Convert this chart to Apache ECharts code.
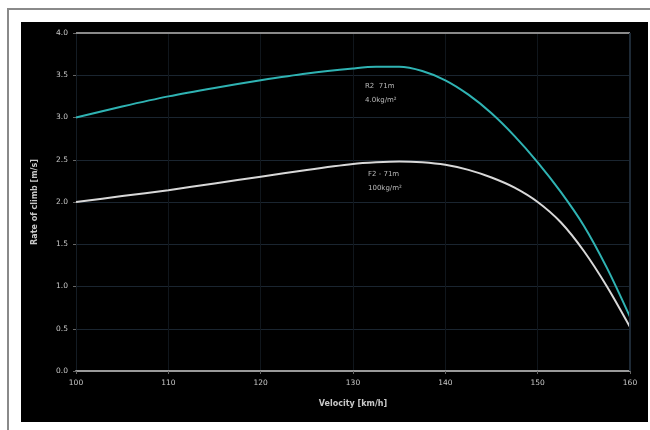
<!DOCTYPE html>
<html><head><meta charset="utf-8">
<script src="https://cdn.jsdelivr.net/npm/echarts@6/dist/echarts.min.js"></script>
<style>html,body{margin:0;padding:0;background:#fff}#c{width:650px;height:430px}</style>
</head><body><div id="c"></div>
<script>
const velocity = [100,105,110,115,120,125,130,132.5,135,137.5,140,142.5,145,147.5,150,152.5,155,157.5,160];
const climbCyan = [3.00,3.13,3.25,3.35,3.44,3.52,3.58,3.60,3.60,3.55,3.44,3.27,3.05,2.78,2.47,2.12,1.72,1.22,0.64];
const climbWhite = [2.00,2.07,2.14,2.22,2.30,2.38,2.45,2.47,2.48,2.47,2.44,2.38,2.29,2.17,2.00,1.76,1.42,1.00,0.52];
const yTicks = [0,0.5,1,1.5,2,2.5,3,3.5,4];
const xTicks = [100,110,120,130,140,150,160];
const labelCyan = ['R2  71m','4.0kg/m²'];
const labelWhite = ['F2 - 71m','100kg/m²'];

const chart = echarts.init(document.getElementById('c'), null, {renderer:'canvas'});
const pair = (xs, ys) => xs.map((x,i)=>[x, ys[i]]);
const txt = '#c8c8c8';
chart.setOption({
  backgroundColor:'#ffffff',
  animation:false,
  graphic:[
    {type:'rect', shape:{x:8,y:9,width:660,height:440}, style:{fill:'#fff',stroke:'#8a8a8a',lineWidth:2}, z:-10},
    {type:'rect', shape:{x:21,y:22,width:627,height:400}, style:{fill:'#000'}, z:-9},
    {type:'text', left:365, top:79, style:{text:labelCyan.join('\n'), fill:'#b8b8b8', font:'7px "DejaVu Sans"', lineHeight:14}, z:10},
    {type:'text', left:368, top:167, style:{text:labelWhite.join('\n'), fill:'#b8b8b8', font:'7px "DejaVu Sans"', lineHeight:14}, z:10}
  ],
  grid:{left:76, right:20, top:33, bottom:59},
  xAxis:{
    type:'value', min:100, max:160, interval:10,
    name:'Velocity [km/h]', nameLocation:'middle', nameGap:29,
    nameTextStyle:{color:txt, fontSize:8, fontWeight:'bold', fontFamily:'DejaVu Sans'},
    axisLine:{show:true, lineStyle:{color:'#9a9a9a', width:2}},
    axisTick:{show:true, length:3, lineStyle:{color:'#666'}},
    axisLabel:{color:txt, fontSize:7.5, fontFamily:'DejaVu Sans', margin:8,
      formatter:v=> xTicks.includes(v) ? String(v) : ''},
    splitLine:{show:true, lineStyle:{color:'#10161c', width:1}}
  },
  yAxis:{
    type:'value', min:0, max:4, interval:0.5,
    name:'Rate of climb [m/s]', nameLocation:'middle', nameGap:37,
    nameTextStyle:{color:txt, fontSize:8, fontWeight:'bold', fontFamily:'DejaVu Sans'},
    axisLine:{show:true, lineStyle:{color:'#141c24'}},
    axisTick:{show:true, length:3, lineStyle:{color:'#666'}},
    axisLabel:{color:txt, fontSize:7.5, fontFamily:'DejaVu Sans', margin:8,
      formatter:v=> yTicks.includes(v) ? v.toFixed(1) : ''},
    splitLine:{show:true, lineStyle:{color:'#1a2530', width:1}}
  },
  series:[
    {type:'line', data:pair(velocity, climbCyan), smooth:0.3, showSymbol:false,
     lineStyle:{color:'#2fb3b3', width:2}},
    {type:'line', data:pair(velocity, climbWhite), smooth:0.3, showSymbol:false,
     lineStyle:{color:'#d8d8d8', width:2}},
    {type:'line', data:[[100,4],[160,4]], showSymbol:false, silent:true,
     lineStyle:{color:'#8a8a8a', width:2}},
    {type:'line', data:[[160,0],[160,4]], showSymbol:false, silent:true,
     lineStyle:{color:'#1e2a36', width:2}}
  ]
});
</script></body></html>
